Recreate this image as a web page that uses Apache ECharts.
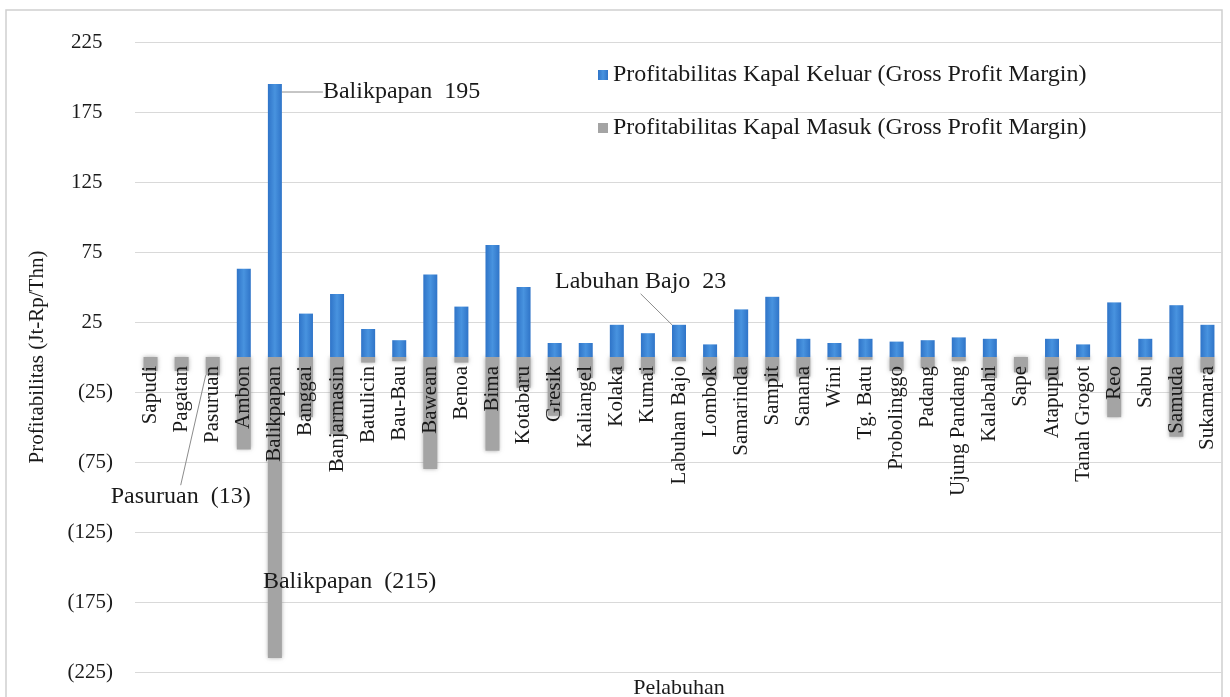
<!DOCTYPE html>
<html>
<head>
<meta charset="utf-8">
<script src="https://cdn.jsdelivr.net/npm/echarts@6/dist/echarts.min.js"></script>
<style>
  html, body { margin: 0; padding: 0; background: #ffffff; }
  #chart { width: 1230px; height: 697px; }
</style>
</head>
<body>
<div id="chart"></div>
<script>
// Ports (Pelabuhan)
const ports = [
  'Sapudi', 'Pagatan', 'Pasuruan', 'Ambon', 'Balikpapan', 'Banggai', 'Banjarmasin',
  'Batulicin', 'Bau-Bau', 'Bawean', 'Benoa', 'Bima', 'Kotabaru', 'Gresik', 'Kaliangel',
  'Kolaka', 'Kumai', 'Labuhan Bajo', 'Lombok', 'Samarinda', 'Sampit', 'Sanana', 'Wini',
  'Tg. Batu', 'Probolinggo', 'Padang', 'Ujung Pandang', 'Kalabahi', 'Sape', 'Atapupu',
  'Tanah Grogot', 'Reo', 'Sabu', 'Samuda', 'Sukamara'
];

// Outbound-vessel profitability (Jt-Rp/Thn)
const keluar = [
  0, 0, 0, 63, 195, 31, 45,
  20, 12, 59, 36, 80, 50, 10, 10,
  23, 17, 23, 9, 34, 43, 13, 10,
  13, 11, 12, 14, 13, 0, 13,
  9, 39, 13, 37, 23
];

// Inbound-vessel profitability (Jt-Rp/Thn)
const masuk = [
  -10, -10, -13, -66, -215, -43, -55,
  -4, -3, -80, -4, -67, -22, -42, -15,
  -10, -12, -3, -16, -14, -17, -14, -2,
  -2, -10, -8, -3, -15, -11, -16,
  -2, -43, -2, -57, -11
];

const seriesNames = [
  'Profitabilitas Kapal Keluar (Gross Profit Margin)',
  'Profitabilitas Kapal Masuk (Gross Profit Margin)'
];
const yAxisTitle = 'Profitabilitas (Jt-Rp/Thn)';
const xAxisTitle = 'Pelabuhan';

// Value-axis range and step
const yMin = -225;
const yMax = 225;
const yStep = 50;

// Accounting-style numbers: negatives in parentheses
function fmt(v) {
  return v < 0 ? '(' + (-v) + ')' : String(v);
}

// Callout labels, placed relative to the bar they describe
const calloutsKeluar = {
  'Balikpapan':   { line: true,  place: (r) => ({ x: r.x + r.width + 41, y: r.y + 8 }) },
  'Labuhan Bajo': { line: true,  place: (r) => ({ x: r.x - 117, y: r.y - 43 }) }
};
const calloutsMasuk = {
  'Pasuruan':   { line: true,  place: (r) => ({ x: r.x - 95, y: r.y + r.height + 122 }) },
  'Balikpapan': { line: false, place: (r) => ({ x: r.x - 5, y: r.y + 225 }) }
};

const serif = 'Liberation Serif, Times New Roman, serif';

// Plot area
const grid = { left: 135, right: 7, top: 42, bottom: 25 };
const plotHeight = 697 - grid.top - grid.bottom;
// Category axis sits on the zero line of the value axis
const zeroOffset = -plotHeight * (0 - yMin) / (yMax - yMin);

function buildData(values, callouts) {
  return values.map((v, i) => {
    const c = callouts[ports[i]];
    if (!c) return v;
    return {
      value: v,
      label: {
        show: true,
        formatter: ports[i] + '  ' + fmt(v)
      },
      labelLine: { show: c.line }
    };
  });
}

function layoutFor(callouts) {
  return function (params) {
    const c = callouts[ports[params.dataIndex]];
    if (!c) return;
    const p = c.place(params.rect);
    return { x: p.x, y: p.y, align: 'left', verticalAlign: 'middle' };
  };
}

const labelStyle = {
  show: false,
  position: 'top',
  color: '#1a1a1a',
  fontFamily: serif,
  fontSize: 24
};
const guideStyle = {
  show: false,
  lineStyle: { color: '#8c8c8c', width: 1 }
};

const chart = echarts.init(document.getElementById('chart'), null, { renderer: 'canvas' });

chart.setOption({
  backgroundColor: '#ffffff',
  animation: false,
  textStyle: { fontFamily: serif },
  grid: Object.assign({ containLabel: false, outerBoundsMode: 'none' }, grid),
  legend: {
    orient: 'vertical',
    left: 593,
    top: 58,
    itemWidth: 10,
    itemHeight: 10,
    itemGap: 29,
    icon: 'rect',
    textStyle: { fontFamily: serif, fontSize: 24, color: '#1a1a1a' },
    data: seriesNames
  },
  xAxis: {
    type: 'category',
    data: ports,
    z: 10,
    position: 'bottom',
    offset: zeroOffset,
    axisLine: { show: false, onZero: false },
    axisTick: { show: false },
    axisLabel: {
      interval: 0,
      rotate: 90,
      margin: 9,
      fontFamily: serif,
      fontSize: 21,
      color: '#1a1a1a'
    },
    splitLine: { show: false }
  },
  yAxis: {
    type: 'value',
    min: yMin,
    max: yMax,
    interval: yStep,
    name: yAxisTitle,
    nameLocation: 'middle',
    nameGap: 87,
    nameMoveOverlap: false,
    nameTextStyle: { fontFamily: serif, fontSize: 21, color: '#1a1a1a' },
    axisLine: { show: false },
    axisTick: { show: false },
    axisLabel: {
      margin: 22,
      fontFamily: serif,
      fontSize: 21,
      color: '#1a1a1a',
      formatter: (v) => (v < 0 ? fmt(v) : fmt(v) + '\u2002')
    },
    splitLine: { lineStyle: { color: '#d9d9d9', width: 1 } }
  },
  graphic: [
    {
      type: 'rect',
      silent: true,
      shape: { x: 6, y: 10, width: 1216, height: 700 },
      style: { fill: 'none', stroke: '#d0d0d0', lineWidth: 1.5 }
    },
    {
      type: 'text',
      silent: true,
      x: 679,
      y: 688,
      style: {
        text: xAxisTitle,
        fontFamily: serif,
        fontSize: 22,
        fill: '#1a1a1a',
        align: 'center',
        verticalAlign: 'middle'
      }
    }
  ],
  series: [
    {
      name: seriesNames[0],
      type: 'bar',
      z: 3,
      barWidth: 14,
      barGap: '-100%',
      data: buildData(keluar, calloutsKeluar),
      itemStyle: {
        color: new echarts.graphic.LinearGradient(0, 0, 1, 0, [
          { offset: 0, color: '#2f74c8' },
          { offset: 0.5, color: '#4893df' },
          { offset: 1, color: '#2f74c8' }
        ])
      },
      label: labelStyle,
      labelLine: guideStyle,
      labelLayout: layoutFor(calloutsKeluar)
    },
    {
      name: seriesNames[1],
      type: 'bar',
      z: 2,
      barWidth: 14,
      barGap: '-100%',
      data: buildData(masuk, calloutsMasuk),
      itemStyle: {
        color: '#a4a4a4',
        shadowBlur: 4,
        shadowColor: 'rgba(140,140,140,0.7)'
      },
      label: labelStyle,
      labelLine: guideStyle,
      labelLayout: layoutFor(calloutsMasuk)
    }
  ]
});
</script>
</body>
</html>
